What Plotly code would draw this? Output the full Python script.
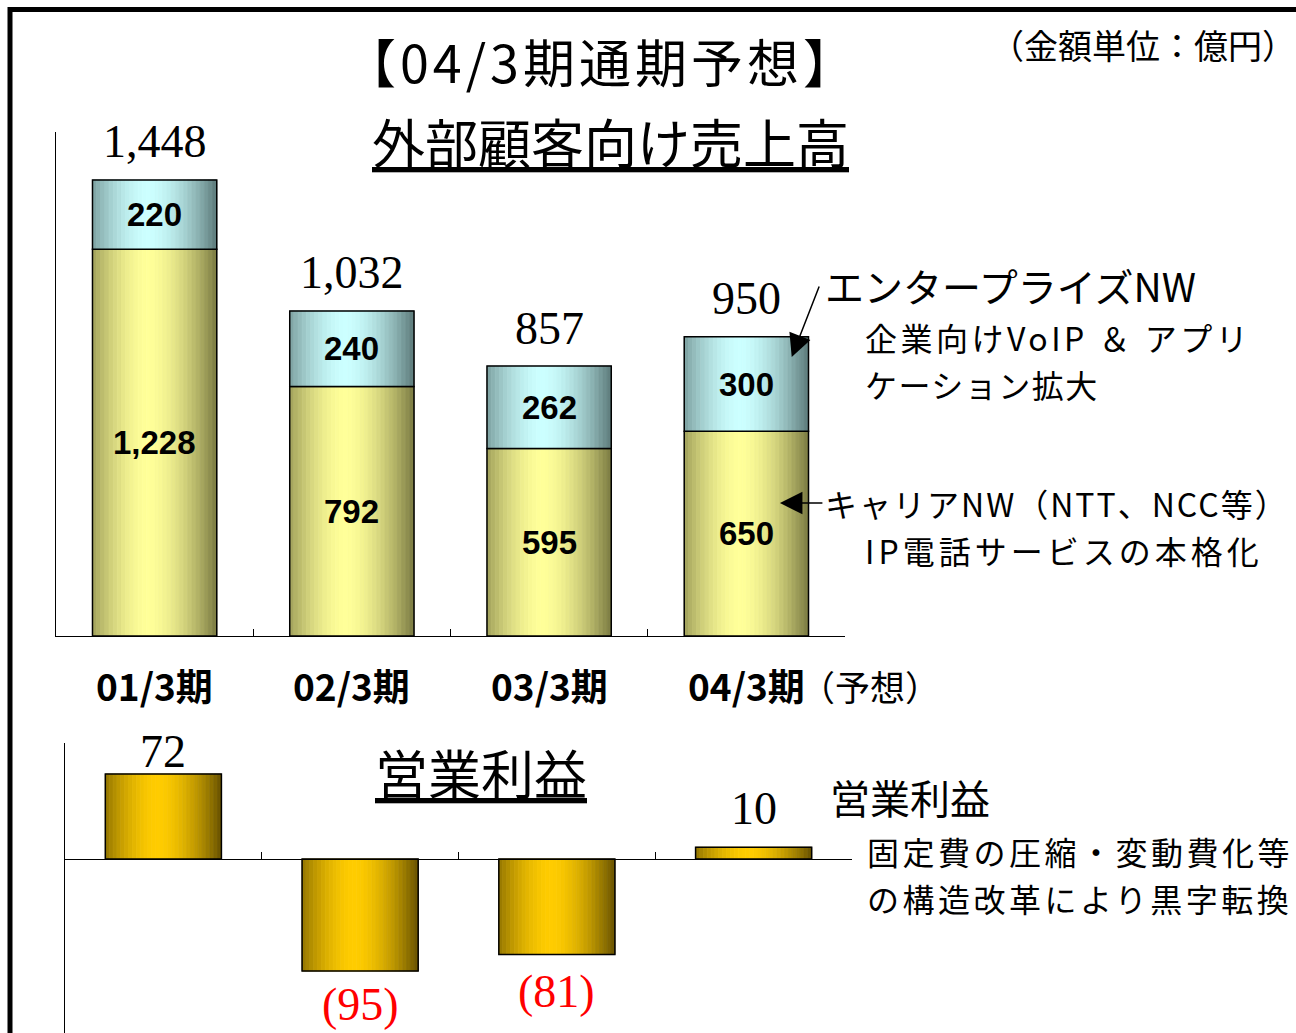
import plotly.graph_objects as go

periods = ["01/3期", "02/3期", "03/3期", "04/3期"]
carrier_nw = [1228, 792, 595, 650]
enterprise_nw = [220, 240, 262, 300]
sales_total = [1448, 1032, 857, 950]
operating_profit = [72, -95, -81, 10]

W, H = 1296, 1033
JP = "Noto Sans CJK JP"
SERIF = "Liberation Serif"
SANS = "Liberation Sans"


def px(x):
    return x / W


def py(y):
    return 1 - y / H


def spaced(s, gap):
    return f'<span style="letter-spacing:{gap}px">{s}</span>'


def _mix(edge, center, t):
    # cylinder-like shading: dark edges, bright a little left of middle
    d = abs(t - 0.45) / 0.55
    f = max(0.0, 1 - d ** 1.7)
    return "rgb({},{},{})".format(*[round(e + (c - e) * f) for e, c in zip(edge, center)])


def _add_shaded_bars(fig, y, base, width, edge, center, axes, strips=30):
    xa, ya = axes
    step = width / strips
    for i in range(strips):
        color = _mix(edge, center, (i + 0.5) / strips)
        fig.add_trace(
            go.Bar(
                x=periods, y=y, base=base, width=step, offset=-width / 2 + i * step,
                marker={"color": color, "line": {"color": color, "width": 0.8}},
                xaxis=xa, yaxis=ya, showlegend=False, hoverinfo="skip",
            )
        )
    fig.add_trace(
        go.Bar(
            x=periods, y=y, base=base, width=width, offset=-width / 2,
            marker={"color": "rgba(0,0,0,0)", "line": {"color": "black", "width": 1.5}},
            xaxis=xa, yaxis=ya, showlegend=False, hoverinfo="skip",
        )
    )


fig = go.Figure()

# top: sales stacked bars
_add_shaded_bars(fig, carrier_nw, [0] * 4, 0.63, (122, 122, 66), (255, 255, 153), ("x", "y"))
_add_shaded_bars(fig, enterprise_nw, carrier_nw, 0.63, (92, 122, 122), (204, 255, 255), ("x", "y"))

# bottom: operating profit
_add_shaded_bars(fig, operating_profit, [0] * 4, 0.59, (104, 82, 0), (255, 204, 0), ("x2", "y2"))

ann = []


def text(x, y, s, size, anchor="center", font=JP, color="black", **kw):
    ann.append(dict(x=px(x), y=py(y), xref="paper", yref="paper", text=s, showarrow=False,
                    xanchor=anchor, yanchor="middle", font={"family": font, "size": size, "color": color}, **kw))


for i, p in enumerate(periods):
    ann.append(dict(x=i, y=carrier_nw[i] / 2, xref="x", yref="y", text=f"<b>{carrier_nw[i]:,}</b>",
                    showarrow=False, font={"family": SANS, "size": 33, "color": "black"}))
    ann.append(dict(x=i, y=carrier_nw[i] + enterprise_nw[i] / 2, xref="x", yref="y",
                    text=f"<b>{enterprise_nw[i]:,}</b>", showarrow=False,
                    font={"family": SANS, "size": 33, "color": "black"}))
    ann.append(dict(x=i, y=sales_total[i], xref="x", yref="y", text=f"{sales_total[i]:,}",
                    showarrow=False, yanchor="middle", yshift=38,
                    font={"family": SERIF, "size": 46, "color": "black"}))
    ann.append(dict(x=i, y=py(685), xref="x", yref="paper", text=f"<b>{p}</b>", showarrow=False,
                    yanchor="middle", font={"family": JP, "size": 37, "color": "black"}))

profit_label_offsets = [23, -33, -37, 39]
for i, v in enumerate(operating_profit):
    ann.append(dict(x=i, y=v, xref="x2", yref="y2",
                    text=f"{v}" if v >= 0 else f"({-v})", showarrow=False, yanchor="middle",
                    yshift=profit_label_offsets[i],
                    font={"family": SERIF, "size": 46, "color": "black" if v >= 0 else "#FF0000"}))

ann.append(dict(x=3, y=py(685), xref="x", yref="paper", text="（予想）", showarrow=False,
                xanchor="left", yanchor="middle", xshift=52,
                font={"family": JP, "size": 35, "color": "black"}))

text(601, 60, spaced("【04/3期通期予想】", 4), 52)
text(1298, 45, "（金額単位：億円）", 34, anchor="right")
text(610, 141, "<u>外部顧客向け売上高</u>", 53)
text(823, 285, "エンタープライズNW", 39, anchor="left")
text(863, 337, spaced("企業向けVoIP ＆ アプリ", 3.5), 32, anchor="left")
text(863, 384, spaced("ケーション拡大", 1.5), 32, anchor="left")
text(823, 503, spaced("キャリアNW（NTT、NCC等）", 2), 32, anchor="left")
text(863, 550, spaced("IP電話サービスの本格化", 4), 32, anchor="left")
text(481, 772, "<u>営業利益</u>", 53)
text(828, 797, "営業利益", 40, anchor="left")
text(865, 851, spaced("固定費の圧縮・変動費化等", 3.5), 32, anchor="left")
text(865, 898, spaced("の構造改革により黒字転換", 3.5), 32, anchor="left")

# arrows pointing into the 04/3 bar
ann.append(dict(x=3.23, y=886, xref="x", yref="y", ax=28, ay=-72, text="", showarrow=True,
                arrowhead=2, arrowsize=3, arrowwidth=1.5, arrowcolor="black", standoff=0))
ann.append(dict(x=3.17, y=422, xref="x", yref="y", ax=44, ay=0, text="", showarrow=True,
                arrowhead=2, arrowsize=3, arrowwidth=1.5, arrowcolor="black", standoff=0))

axis_common = dict(showgrid=False, zeroline=False, showline=True, linecolor="black", linewidth=1.2)

fig.update_layout(
    width=W, height=H,
    margin={"l": 0, "r": 0, "t": 0, "b": 0},
    paper_bgcolor="white", plot_bgcolor="white",
    barmode="overlay",
    showlegend=False,
    annotations=ann,
    shapes=[dict(type="path", xref="paper", yref="paper",
                 path=f"M {px(10)},0 L {px(10)},{py(9.5)} L 1,{py(9.5)}",
                 line={"color": "black", "width": 5})],
    xaxis=dict(domain=[px(56), px(845)], anchor="y", type="category", range=[-0.5, 3.5],
               tickson="boundaries", ticks="inside", ticklen=7, tickcolor="black",
               showticklabels=False, **axis_common),
    yaxis=dict(domain=[py(636), py(132)], anchor="x", range=[0, 1600], showticklabels=False,
               ticks="", **axis_common),
    xaxis2=dict(domain=[px(65), px(852)], anchor="free", position=py(859), type="category",
                range=[-0.5, 3.5], tickson="boundaries", ticks="inside", ticklen=7,
                tickcolor="black", showticklabels=False, **axis_common),
    yaxis2=dict(domain=[0, py(743)], anchor="x2", range=[-147.5, 98.3], showticklabels=False,
                ticks="", **axis_common),
)

fig.write_html("out.html", config={"displayModeBar": False},
               post_script="document.body.style.margin='0';")
